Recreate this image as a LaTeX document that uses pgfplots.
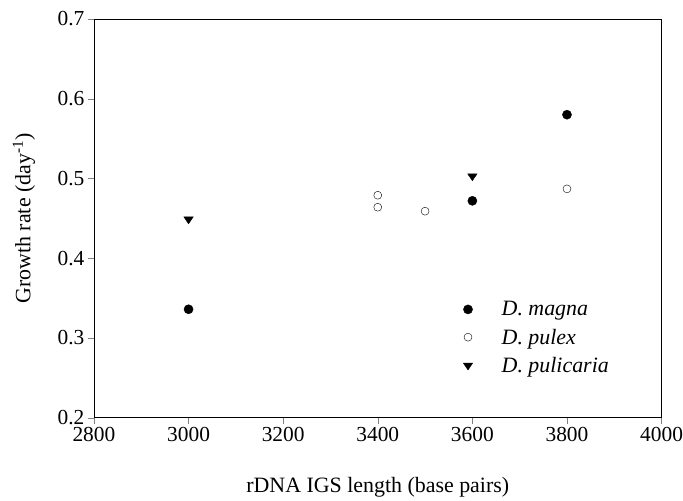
\documentclass[border=0pt]{standalone}
\usepackage{fontspec}
\setmainfont{Liberation Serif}
\usepackage{pgfplots}
\pgfplotsset{compat=1.18}

\begin{document}
\begin{tikzpicture}
\begin{axis}[
  name=ax,
  scale only axis,
  width=568bp, height=399bp,
  xmin=2800, xmax=4000,
  ymin=0.2, ymax=0.7,
  xtick={2800,3000,...,4000},
  ytick={0.2,0.3,...,0.7},
  tick align=outside,
  xtick pos=left, ytick pos=left,
  major tick length=6bp,
  /pgf/number format/assume math mode=true,
  yticklabel style={/pgf/number format/.cd, fixed, fixed zerofill, precision=1},
  xticklabel style={/pgf/number format/.cd, fixed, precision=0, 1000 sep={}, /tikz/.cd, inner xsep=0pt},
  tick label style={font=\fontsize{21.5}{24}\selectfont},
  label style={font=\fontsize{22}{26}\selectfont},
  xlabel={rDNA IGS length (base pairs)},
  ylabel={Growth rate (day\textsuperscript{-1})},
  xlabel style={at={(axis description cs:0.5,-0.1754)}, anchor=center},
  ylabel style={at={(axis description cs:-0.1232,0.5)}, anchor=center},
  axis line style={line width=0.8pt},
  legend style={draw=none, fill=none, at={(axis cs:3574,0.351)}, anchor=north west,
    font=\fontsize{22}{26}\selectfont\itshape, row sep=7.5bp,
    /tikz/every odd column/.append style={column sep=27bp}},
  legend cell align=left,
]
\addplot[only marks, mark=*, mark size=4.6pt, black] coordinates {
  (3000,0.336) (3600,0.472) (3800,0.580)
};
\addlegendentry{D. magna}
\addplot[only marks, mark=o, mark size=4pt, black, thin] coordinates {
  (3400,0.479) (3400,0.464) (3500,0.459) (3800,0.487)
};
\addlegendentry{D. pulex}
\addplot[only marks, mark=triangle*, mark size=5.5pt, black, mark options={rotate=180, yscale=0.85}] coordinates {
  (3000,0.449) (3600,0.503)
};
\addlegendentry{D. pulicaria}
\end{axis}
\path ([xshift=-94bp,yshift=-80bp]ax.south west) rectangle ([xshift=21bp,yshift=19bp]ax.north east);
\end{tikzpicture}
\end{document}
